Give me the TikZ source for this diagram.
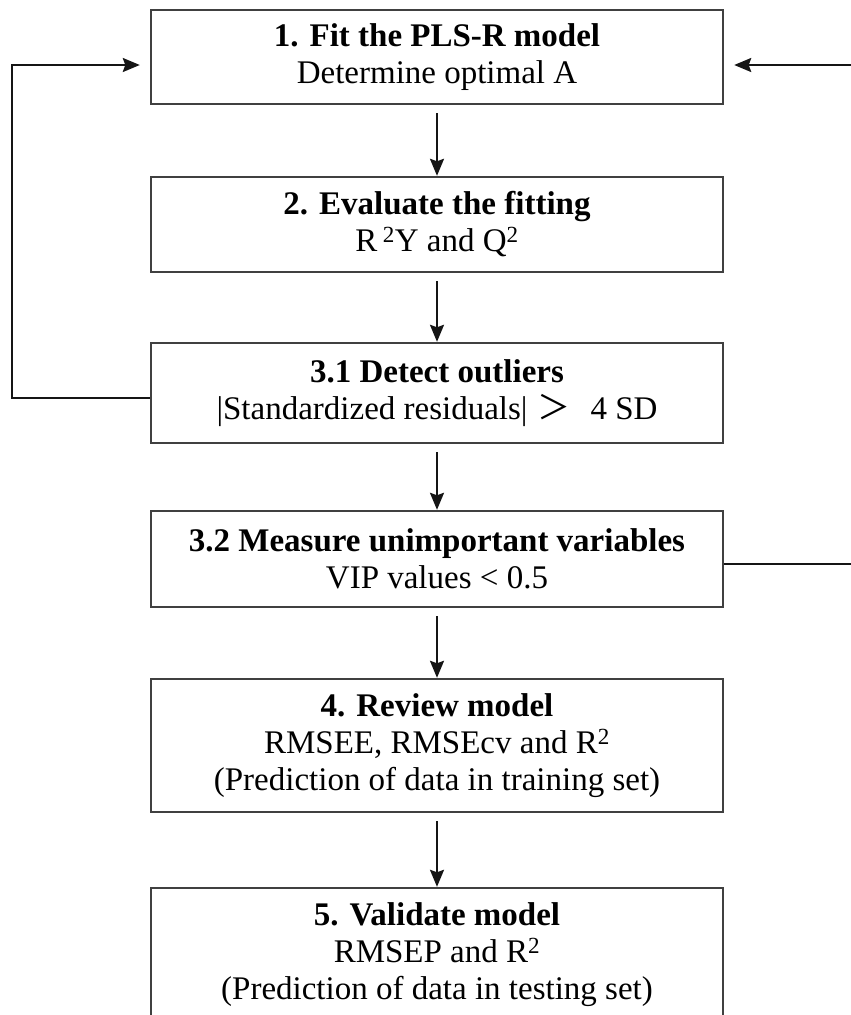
\documentclass[tikz,border=0pt]{standalone}
\usepackage{fontspec}
\setmainfont{Liberation Serif}
\newfontfamily\cjk{Noto Sans CJK SC}
\usetikzlibrary{arrows.meta}

\definecolor{boxline}{HTML}{404040}
\definecolor{arrowline}{HTML}{151515}

\tikzset{
	stepbox/.style={draw=boxline, line width=2.4pt, minimum width=572pt, align=center, inner sep=0pt, font=\fontsize{33}{37}\selectfont},
	flowarrow/.style={draw=arrowline, line width=2.2pt, -{Stealth[length=17pt, width=14pt, inset=2.5pt]}},
}

\begin{document}
\begin{tikzpicture}[x=1pt, y=-1pt]
			\def\xMID{437};
			\def\xLEFT{12};
			\def\xRIGHT{870};
			\useasboundingbox (0,0) rectangle (851,1015);

			\begin{scope}
				\node[stepbox, minimum height=94pt] (fit) at (\xMID,57) {\textbf{1. Fit the PLS-R model}\\Determine optimal A};
				\node[stepbox, minimum height=95pt] (evaluate) at (\xMID,224.5) {\textbf{2. Evaluate the fitting}\\R\,\textsuperscript{2}Y and Q\textsuperscript{2}};
				\node[stepbox, minimum height=100pt] (outliers) at (\xMID,393) {\textbf{3.1 Detect outliers}\\|Standardized residuals|\hspace{10pt}{\cjk ＞}\hspace{20pt}4 SD};
				\node[stepbox, minimum height=96pt] (unimportant) at (\xMID,559) {\textbf{3.2 Measure unimportant variables}\\VIP values < 0.5};
				\node[stepbox, minimum height=133pt] (review) at (\xMID,745.5) {\textbf{4. Review model}\\RMSEE, RMSEcv and R\textsuperscript{2}\\(Prediction of data in training set)};
				\node[stepbox, minimum height=133pt] (validate) at (\xMID,954.5) {\textbf{5. Validate model}\\RMSEP and R\textsuperscript{2}\\(Prediction of data in testing set)};
			\end{scope}

			\begin{scope}
				\foreach \a/\b in {fit/evaluate, evaluate/outliers, outliers/unimportant, unimportant/review, review/validate}
				{
					\draw[flowarrow, shorten <=8pt] (\a.south) -- (\b.north);
				}
			\end{scope}

			% feedback loops back to step 1
			\begin{scope}
				\coordinate (loopLeft) at (\xLEFT,65);
				\coordinate (loopRight) at (\xRIGHT,65);
				\draw[flowarrow, shorten >=10pt] ([yshift=-5pt]outliers.west) -| (loopLeft) -- ([yshift=-8pt]fit.west);
				\draw[flowarrow, shorten >=10pt] ([yshift=-5pt]unimportant.east) -| (loopRight) -- ([yshift=-8pt]fit.east);
			\end{scope}
		\end{tikzpicture}
\end{document}
